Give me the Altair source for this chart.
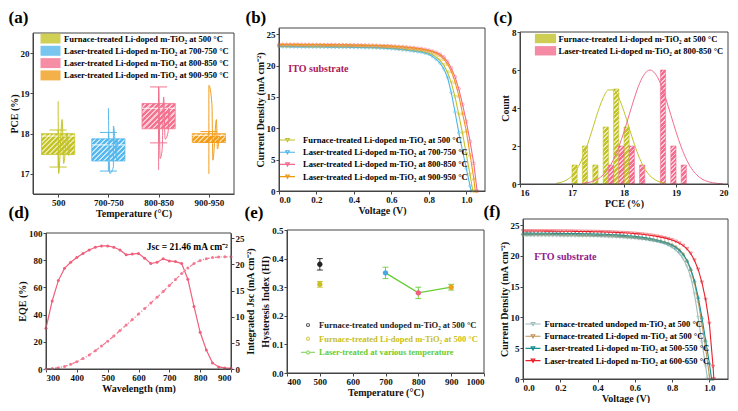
import json
import altair as alt
import pandas as pd

FONT = "Liberation Serif"

# ---------------- (a) PCE box plots ----------------
A_CATS = ["500", "700-750", "800-850", "900-950"]
A_LABELS = [
    "Furnace-treated Li-doped m-TiO₂ at 500 °C",
    "Laser-treated Li-doped m-TiO₂ at 700-750 °C",
    "Laser-treated Li-doped m-TiO₂ at 800-850 °C",
    "Laser-treated Li-doped m-TiO₂ at 900-950 °C",
]
A_COLORS = ["#c4c42a", "#56b8ec", "#f2728f", "#f19e1c"]
A_LIGHT = ["#e9e9a6", "#c4e6f9", "#fbc8d3", "#f9d89a"]
A_Q1 = [17.48, 17.32, 18.12, 17.78]
A_Q3 = [18.00, 17.87, 18.75, 18.00]
A_MED = [17.94, 17.72, 18.63, 17.96]
A_LO = [17.17, 17.07, 17.77, 17.78]
A_HI = [18.09, 18.03, 19.16, 18.05]
A_CURVE_PCE = [
    [17.01, 17.26, 17.46, 17.74, 18.02, 18.35, 18.80],
    [17.01, 17.18, 17.38, 17.62, 17.86, 18.19, 18.63],
    [17.10, 17.38, 17.60, 17.86, 18.05, 18.31, 18.63, 18.91, 19.15],
    [17.00, 17.34, 17.62, 17.94, 18.35, 18.75, 19.20],
]
A_CURVE_OFF = [
    [0.01, 0.11, 0.21, 0.24, 0.18, 0.08, 0.00],
    [0.03, 0.10, 0.165, 0.196, 0.165, 0.10, 0.00],
    [0.00, 0.03, 0.07, 0.13, 0.19, 0.23, 0.20, 0.10, 0.00],
    [0.00, 0.08, 0.17, 0.21, 0.15, 0.06, 0.00],
]

# ---------------- (b) / (f) J-V curves ----------------
V_GRID = [0.00, 0.02, 0.04, 0.06, 0.08, 0.10, 0.12, 0.14, 0.16, 0.18,
          0.20, 0.22, 0.24, 0.26, 0.28, 0.30, 0.32, 0.34, 0.36, 0.38,
          0.40, 0.42, 0.44, 0.46, 0.48, 0.50, 0.52, 0.54, 0.56, 0.58,
          0.60, 0.62, 0.64, 0.66, 0.68, 0.70, 0.72, 0.74, 0.76, 0.78,
          0.80, 0.82, 0.84, 0.86, 0.88, 0.90, 0.92, 0.94, 0.96, 0.98,
          1.00, 1.02, 1.04, 1.06]

B_LABELS = A_LABELS
B_COLORS = ["#c2c22a", "#4db4ec", "#f26a8c", "#f09a14"]
B_SHAPES = ["triangle-down", "diamond", "circle", "triangle-up"]
B_J_500 = [23.05, 23.05, 23.05, 23.04, 23.04, 23.04, 23.03, 23.03, 23.03, 23.02,
           23.02, 23.01, 23.01, 23.00, 23.00, 22.99, 22.98, 22.98, 22.97, 22.96,
           22.95, 22.94, 22.93, 22.92, 22.91, 22.90, 22.88, 22.86, 22.84, 22.81,
           22.77, 22.73, 22.68, 22.62, 22.56, 22.49, 22.42, 22.34, 22.25, 22.13,
           21.98, 21.75, 21.35, 20.85, 20.10, 18.95, 17.30, 15.00, 12.20, 9.20,
           5.90, 2.60]
B_J_700 = [23.00, 23.00, 23.00, 22.99, 22.99, 22.99, 22.98, 22.98, 22.98, 22.97,
           22.97, 22.96, 22.96, 22.95, 22.95, 22.94, 22.93, 22.93, 22.92, 22.91,
           22.90, 22.89, 22.88, 22.87, 22.86, 22.85, 22.83, 22.81, 22.78, 22.74,
           22.70, 22.65, 22.59, 22.52, 22.45, 22.38, 22.30, 22.22, 22.12, 21.98,
           21.80, 21.45, 21.00, 20.40, 19.50, 18.10, 15.70, 12.60, 9.30, 6.40,
           3.60, 0.80]
B_J_800 = [23.35, 23.35, 23.35, 23.34, 23.34, 23.34, 23.33, 23.33, 23.33, 23.32,
           23.32, 23.31, 23.31, 23.30, 23.30, 23.29, 23.28, 23.28, 23.27, 23.26,
           23.25, 23.24, 23.23, 23.22, 23.21, 23.20, 23.18, 23.16, 23.14, 23.12,
           23.09, 23.06, 23.02, 22.98, 22.93, 22.88, 22.82, 22.75, 22.67, 22.57,
           22.45, 22.30, 22.10, 21.80, 21.35, 20.65, 19.60, 18.20, 16.30, 13.80,
           11.10, 7.90, 4.40]
B_J_900 = [23.40, 23.40, 23.40, 23.39, 23.39, 23.39, 23.38, 23.38, 23.38, 23.37,
           23.37, 23.36, 23.36, 23.35, 23.35, 23.34, 23.33, 23.33, 23.32, 23.31,
           23.30, 23.29, 23.28, 23.27, 23.26, 23.25, 23.23, 23.21, 23.19, 23.16,
           23.13, 23.09, 23.05, 23.00, 22.94, 22.88, 22.81, 22.73, 22.64, 22.53,
           22.40, 22.22, 21.98, 21.62, 21.05, 20.25, 19.10, 17.40, 15.20, 12.40,
           9.60, 5.80, 2.00]
B_VOC = [1.035, 1.026, 1.058, 1.048]

F_LABELS = [
    "Furnace-treated undoped m-TiO₂ at 500 °C",
    "Furnace-treated Li-doped m-TiO₂ at 500 °C",
    "Laser-treated Li-doped m-TiO₂ at 500-550 °C",
    "Laser-treated Li-doped m-TiO₂ at 600-650 °C",
]
F_COLORS = ["#9dbdbd", "#c49358", "#178f8f", "#e8202a"]
F_SHAPES = ["triangle-down", "diamond", "triangle-up", "triangle-down"]
F_J_UNDOPED = [23.30, 23.30, 23.30, 23.29, 23.29, 23.29, 23.28, 23.28, 23.27, 23.27,
               23.26, 23.25, 23.25, 23.24, 23.23, 23.22, 23.21, 23.20, 23.19, 23.17,
               23.16, 23.14, 23.12, 23.10, 23.07, 23.04, 23.01, 22.97, 22.93, 22.88,
               22.83, 22.77, 22.70, 22.62, 22.53, 22.43, 22.31, 22.17, 22.00, 21.75,
               21.40, 20.95, 20.35, 19.50, 18.30, 16.60, 13.80, 10.00, 6.00, 2.10]
F_J_LIDOPED = [23.50, 23.50, 23.50, 23.49, 23.49, 23.49, 23.48, 23.48, 23.47, 23.47,
               23.46, 23.45, 23.45, 23.44, 23.43, 23.42, 23.41, 23.40, 23.39, 23.37,
               23.36, 23.34, 23.32, 23.30, 23.27, 23.24, 23.21, 23.17, 23.13, 23.08,
               23.03, 22.97, 22.90, 22.82, 22.73, 22.63, 22.52, 22.39, 22.24, 22.06,
               21.82, 21.50, 21.02, 20.30, 19.20, 17.70, 15.60, 12.60, 9.00, 5.00,
               0.60]
F_J_500 = [23.70, 23.70, 23.70, 23.69, 23.69, 23.69, 23.68, 23.68, 23.67, 23.67,
           23.66, 23.65, 23.65, 23.64, 23.63, 23.62, 23.61, 23.60, 23.58, 23.57,
           23.55, 23.53, 23.51, 23.48, 23.45, 23.42, 23.38, 23.34, 23.29, 23.23,
           23.17, 23.10, 23.02, 22.93, 22.82, 22.70, 22.56, 22.40, 22.22, 22.00,
           21.72, 21.36, 20.88, 20.22, 19.25, 17.90, 16.00, 13.30, 10.00, 6.30,
           2.60]
F_J_600 = [24.05, 24.05, 24.05, 24.04, 24.04, 24.04, 24.03, 24.03, 24.03, 24.02,
           24.02, 24.01, 24.01, 24.00, 23.99, 23.98, 23.97, 23.96, 23.95, 23.94,
           23.93, 23.91, 23.89, 23.87, 23.85, 23.82, 23.79, 23.76, 23.72, 23.68,
           23.63, 23.58, 23.52, 23.45, 23.37, 23.28, 23.18, 23.06, 22.93, 22.77,
           22.58, 22.35, 22.06, 21.68, 21.15, 20.40, 19.30, 17.80, 15.70, 12.90,
           9.00, 2.00]
F_VOC = [0.990, 1.003, 1.012, 1.024]

# ---------------- (c) histogram ----------------
C_LABELS = ["Furnace-treated Li-doped m-TiO₂ at 500 °C",
            "Laser-treated  Li-doped m-TiO₂ at 800-850 °C"]
C_COLORS = ["#c2c22a", "#f26d8e"]
C_LIGHT = ["#ececb0", "#fcccd8"]
C_F_PCE = [17.05, 17.25, 17.45, 17.65, 17.85, 18.05]
C_F_COUNT = [1, 2, 1, 3, 5, 3]
C_L_PCE = [17.75, 17.95, 18.15, 18.35, 18.75, 18.95, 19.15]
C_L_COUNT = [1, 2, 2, 1, 6, 2, 1]
C_FIT_F_X = [16.7, 16.8, 16.9, 17.0, 17.1, 17.2, 17.3, 17.4, 17.5, 17.6, 17.7,
             17.8, 17.9, 18.0, 18.1, 18.2, 18.3, 18.4, 18.5, 18.6, 18.7, 18.8]
C_FIT_F_Y = [0.04, 0.10, 0.22, 0.43, 0.80, 1.35, 2.09, 2.94, 3.82, 4.53, 4.95,
             4.95, 4.53, 3.82, 2.94, 2.09, 1.35, 0.80, 0.43, 0.22, 0.10, 0.04]
C_FIT_L_X = [17.2, 17.3, 17.4, 17.5, 17.6, 17.7, 17.8, 17.9, 18.0, 18.1,
             18.2, 18.3, 18.4, 18.5, 18.6, 18.7, 18.8, 18.9, 19.0, 19.1,
             19.2, 19.3, 19.4, 19.5, 19.6, 19.7, 19.8, 19.9]
C_FIT_L_Y = [0.03, 0.07, 0.14, 0.26, 0.48, 0.81, 1.30, 1.95, 2.75, 3.64,
             4.53, 5.30, 5.81, 6.00, 5.81, 5.30, 4.53, 3.64, 2.75, 1.95,
             1.30, 0.81, 0.48, 0.26, 0.14, 0.07, 0.03, 0.01]
C_BAR_W = 0.1

# ---------------- (d) EQE ----------------
D_WL = [300, 320, 340, 360, 380, 400, 420, 440, 460, 480, 500, 520, 540, 560, 580, 600,
        620, 640, 660, 680, 700, 720, 740, 760, 780, 800, 820, 840, 860, 880, 900]
D_EQE = [30, 50, 65, 74, 78.5, 82, 85, 87.5, 89.5, 90.5, 90.5, 89.5, 87.5, 84, 84.5, 85,
         81.5, 77.5, 78.5, 81, 79.5, 79, 77.5, 66, 46, 27, 14, 4.5, 1.5, 0.8, 0.5]
D_JSC = [0.0, 0.1, 0.25, 0.5, 0.9, 1.4, 2.0, 2.7, 3.5, 4.4, 5.3, 6.3, 7.35, 8.4, 9.45, 10.5,
         11.55, 12.6, 13.7, 14.8, 15.95, 17.1, 18.25, 19.3, 20.15, 20.75, 21.1, 21.3, 21.4,
         21.44, 21.46]
D_NOTE = "Jsc = 21.46 mA cm⁻²"

# ---------------- (e) hysteresis index ----------------
E_LABELS = ["Furnace-treated undoped m-TiO₂ at 500 °C",
            "Furnace-treated Li-doped m-TiO₂ at 500 °C",
            "Laser-treated at various temperature"]
E_LEG_COLORS = ["#222222", "#c8c020", "#66cc33"]
E_UNDOPED = [500, 0.38, 0.02]
E_LIDOPED = [500, 0.31, 0.01]
E_LASER_T = [700, 800, 900]
E_LASER_HI = [0.35, 0.28, 0.30]
E_LASER_ERR = [0.02, 0.02, 0.01]
E_LASER_PT = ["#4aa8e0", "#f06080", "#f0a020"]

# ---------------- layout: grid cells and frame insets (left, right, top, bottom) ----------------
COL_W = [211, 206, 208]
ROW_H = [166, 160]
SPACE_COL, SPACE_ROW = 35, 25
INSET = {
    "a": (0, 10, 5, 0),
    "b": (0, 0, 0, 3),
    "c": (0, 0, 4, 10),
    "d": (13, 13, 14, 10),
    "e": (8, 1, 11, 6),
    "f": (3, 0, 0, 0),
}
FRAME = "#444444"


class Box:
    def __init__(self, key, col, row):
        self.W, self.H = COL_W[col], ROW_H[row]
        self.gl, self.gr, self.gt, self.gb = INSET[key]
        self.fw = self.W - self.gl - self.gr
        self.fh = self.H - self.gt - self.gb

    def xr(self):
        return [self.gl, self.W - self.gr]

    def yr(self):
        return [self.H - self.gb, self.gt]

    def frame(self):
        return alt.Chart(pd.DataFrame({"f": [0]})).mark_rect(
            fillOpacity=0, stroke=FRAME, strokeWidth=1
        ).encode(x=alt.value(self.gl), x2=alt.value(self.W - self.gr),
                 y=alt.value(self.gt), y2=alt.value(self.H - self.gb))


BA, BB, BC = Box("a", 0, 0), Box("b", 1, 0), Box("c", 2, 0)
BD, BE, BF = Box("d", 0, 1), Box("e", 1, 1), Box("f", 2, 1)


def stripes(base, light, w, h, period=3.6, duty=0.6):
    n = max(2, round((w + h) / (1.4142 * period)))
    m = (w * w + h * h) / (w + h)
    stops = []
    for k in range(n):
        a, b, c = k / n, (k + duty) / n, (k + 1) / n
        stops += [{"offset": a, "color": base}, {"offset": b, "color": base},
                  {"offset": b, "color": light}, {"offset": c, "color": light}]
    return {"gradient": "linear", "x1": 0, "y1": 0, "x2": w / m, "y2": h / m, "stops": stops}


def panel_title(tag, offset, dx):
    return alt.TitleParams(text=tag, anchor="start", frame="group", offset=offset, dx=dx,
                           font=FONT, fontSize=17, fontWeight="bold", color="black")


LEG_COMMON = dict(title=None, orient="none", padding=0, labelFont=FONT, labelFontSize=8.5,
                  labelFontWeight="bold", labelLimit=400)
RES = dict(color="independent", shape="independent", fill="independent", stroke="independent")

# ================= panel (a) =================
xa_scale = alt.Scale(domain=[0.5, 4.5], nice=False, zero=False, range=BA.xr())
ya_scale = alt.Scale(domain=[16.5, 20.5], nice=False, zero=False, range=BA.yr())
xa_axis = alt.Axis(values=[1, 2, 3, 4], labelExpr=f"{json.dumps(A_CATS)}[datum.value - 1]",
                   title="Temperature (°C)", offset=-BA.gb)
ya_axis = alt.Axis(values=[17, 18, 19, 20], title="PCE (%)", offset=-BA.gl)


def XA(f):
    return alt.X(f, type="quantitative", scale=xa_scale, axis=xa_axis)


def YA(f):
    return alt.Y(f, type="quantitative", scale=ya_scale, axis=ya_axis)


a_box = pd.DataFrame({"cat": A_CATS, "label": A_LABELS, "pos": [1, 2, 3, 4],
                      "q1": A_Q1, "q3": A_Q3, "med": A_MED, "lo": A_LO, "hi": A_HI})
a_curve = pd.DataFrame([{"pos": i + 1, "pce": y, "off": o}
                        for i in range(4) for y, o in zip(A_CURVE_PCE[i], A_CURVE_OFF[i])])
a_layers = []
for i in range(4):
    col = A_COLORS[i]
    sub = alt.Chart(a_box).transform_filter(alt.datum.pos == i + 1).transform_calculate(
        xl="datum.pos - 0.33", xr="datum.pos + 0.33", cl="datum.pos - 0.17", cr="datum.pos + 0.17")
    a_layers.append(sub.mark_rule(color=col, strokeWidth=1).encode(x=XA("pos"), y=YA("lo"), y2="q1"))
    a_layers.append(sub.mark_rule(color=col, strokeWidth=1).encode(x=XA("pos"), y=YA("q3"), y2="hi"))
    a_layers.append(sub.mark_rule(color=col, strokeWidth=1).encode(x=XA("cl"), x2="cr", y=YA("lo")))
    a_layers.append(sub.mark_rule(color=col, strokeWidth=1).encode(x=XA("cl"), x2="cr", y=YA("hi")))
    bw = 0.66 * BA.fw / 4.0
    bh = (A_Q3[i] - A_Q1[i]) * BA.fh / 4.0
    a_layers.append(sub.mark_rect(fill=stripes(col, A_LIGHT[i], bw, bh), stroke=col, strokeWidth=0.8)
                    .encode(x=XA("xl"), x2="xr", y=YA("q1"), y2="q3"))
    a_layers.append(sub.mark_rule(color="white", strokeWidth=1, opacity=0.9)
                    .encode(x=XA("xl"), x2="xr", y=YA("med")))
    a_layers.append(alt.Chart(a_curve).transform_filter(alt.datum.pos == i + 1)
                    .transform_calculate(cx="datum.pos + datum.off")
                    .mark_line(color=col, strokeWidth=1, interpolate="monotone", orient="vertical")
                    .encode(x=XA("cx"), y=YA("pce")))
a_layers.append(alt.Chart(a_box).mark_point(filled=True, size=0).encode(
    x=XA("pos"), y=YA("q1"),
    color=alt.Color("label:N", scale=alt.Scale(domain=A_LABELS, range=A_COLORS),
                    legend=alt.Legend(legendX=BA.gl + 11, legendY=BA.gt - 1,
                                      symbolType="M-1.6,-0.8H1.6V0.8H-1.6Z",
                                      symbolSize=156, symbolOpacity=0.8, symbolStrokeWidth=0,
                                      labelOffset=7, rowPadding=0.3, **LEG_COMMON))))
a_layers.append(BA.frame())
panel_a = alt.layer(*a_layers).properties(width=BA.W, height=BA.H, title=panel_title("(a)", 1, -24.5))


# ================= panels (b) and (f) =================
def jv_panel(box, labels, colors, shapes, jlists, vocs, note, note_xy, note_color,
             leg_x, leg_y, leg_off, title):
    rows = []
    for k, (lab, js, voc) in enumerate(zip(labels, jlists, vocs)):
        for v, j in zip(V_GRID, js):
            rows.append({"k": k, "label": lab, "V": v, "J": j})
        rows.append({"k": k, "label": lab, "V": voc, "J": 0.0})
    df = pd.DataFrame(rows)
    xs = alt.Scale(domain=[0, 1.1], nice=False, range=box.xr())
    ys = alt.Scale(domain=[0, 26], nice=False, range=box.yr())
    xax = alt.Axis(values=[0, 0.2, 0.4, 0.6, 0.8, 1.0], format=".1f", title="Voltage (V)", offset=-box.gb)
    yax = alt.Axis(values=[0, 5, 10, 15, 20, 25], title="Current Density (mA cm⁻²)", offset=-box.gl)
    layers = [alt.Chart(df).mark_line(strokeWidth=1.1).encode(
        x=alt.X("V:Q", scale=xs, axis=xax),
        y=alt.Y("J:Q", scale=ys, axis=yax),
        color=alt.Color("label:N", scale=alt.Scale(domain=labels, range=colors),
                        legend=alt.Legend(legendX=leg_x, legendY=leg_y,
                                          symbolType="M-1.25,0H1.25M-0.3,-0.25H0.3L0,0.28Z",
                                          symbolSize=144, symbolStrokeWidth=1.1,
                                          labelOffset=leg_off, rowPadding=0.2, **LEG_COMMON)))]
    for k, (col, shp) in enumerate(zip(colors, shapes)):
        layers.append(alt.Chart(df).transform_filter(alt.datum.k == k).mark_point(
            shape=shp, color=col, filled=False, size=11, strokeWidth=0.7
        ).encode(x=alt.X("V:Q", scale=xs, axis=xax), y=alt.Y("J:Q", scale=ys, axis=yax)))
    layers.append(alt.Chart(pd.DataFrame({"t": [note]})).mark_text(
        align="left", baseline="middle", font=FONT, fontSize=10, fontWeight="bold", color=note_color
    ).encode(x=alt.XDatum(note_xy[0], scale=xs, axis=xax),
             y=alt.YDatum(note_xy[1], scale=ys, axis=yax), text="t:N"))
    layers.append(box.frame())
    return alt.layer(*layers).properties(width=box.W, height=box.H, title=title)


panel_b = jv_panel(BB, B_LABELS, B_COLORS, B_SHAPES, [B_J_500, B_J_700, B_J_800, B_J_900], B_VOC,
                   "ITO substrate", [0.05, 19.5], "#a8185c",
                   BB.gl + 1.5, BB.H - BB.gb - 58, 8.5, panel_title("(b)", 1, -33.5))
panel_f = jv_panel(BF, F_LABELS, F_COLORS, F_SHAPES, [F_J_UNDOPED, F_J_LIDOPED, F_J_500, F_J_600],
                   F_VOC, "FTO substrate", [0.06, 19.8], "#8c1a8c",
                   BF.gl + 3, BF.H - BF.gb - 62, 4.5, panel_title("(f)", -2, -36.5))

# ================= panel (c) =================
xc_scale = alt.Scale(domain=[16, 20], nice=False, zero=False, range=BC.xr())
yc_scale = alt.Scale(domain=[0, 8], nice=False, range=BC.yr())
xc_axis = alt.Axis(values=[16, 17, 18, 19, 20], title="PCE (%)", offset=-BC.gb)
yc_axis = alt.Axis(values=[0, 2, 4, 6, 8], title="Count", offset=-BC.gl)


def XC(f):
    return alt.X(f, type="quantitative", scale=xc_scale, axis=xc_axis)


def YC(f):
    return alt.Y(f, type="quantitative", scale=yc_scale, axis=yc_axis)


c_layers = []
for si, (pces, counts) in enumerate([(C_F_PCE, C_F_COUNT), (C_L_PCE, C_L_COUNT)]):
    cdf = pd.DataFrame({"pce": pces, "n": counts})
    for cnt in sorted(set(counts)):
        bw = C_BAR_W * BC.fw / 4.0
        bh = cnt * BC.fh / 8.0
        c_layers.append(
            alt.Chart(cdf).transform_filter(alt.datum.n == cnt)
            .transform_calculate(x1=f"datum.pce - {C_BAR_W / 2}", x2=f"datum.pce + {C_BAR_W / 2}", z="0")
            .mark_rect(fill=stripes(C_COLORS[si], C_LIGHT[si], bw, bh, period=3.2), stroke=C_COLORS[si],
                       strokeWidth=0.6)
            .encode(x=XC("x1"), x2="x2", y=YC("n"), y2="z"))
for fx, fy, col in [(C_FIT_F_X, C_FIT_F_Y, C_COLORS[0]), (C_FIT_L_X, C_FIT_L_Y, C_COLORS[1])]:
    c_layers.append(alt.Chart(pd.DataFrame({"pce": fx, "fit": fy}))
                    .mark_line(color=col, strokeWidth=1, interpolate="monotone")
                    .encode(x=XC("pce"), y=YC("fit")))
c_layers.append(alt.Chart(pd.DataFrame({"label": C_LABELS, "pce": [17.0, 18.0], "n": [0, 0]}))
                .mark_point(filled=True, size=0).encode(
    x=XC("pce"), y=YC("n"),
    color=alt.Color("label:N", scale=alt.Scale(domain=C_LABELS, range=C_COLORS),
                    legend=alt.Legend(legendX=BC.gl + 19, legendY=BC.gt,
                                      symbolType="M-1.7,-0.75H1.7V0.75H-1.7Z",
                                      symbolSize=156, symbolOpacity=0.8, symbolStrokeWidth=0,
                                      labelOffset=6.5, rowPadding=0.3, **LEG_COMMON))))
c_layers.append(BC.frame())
panel_c = alt.layer(*c_layers).properties(width=BC.W, height=BC.H, title=panel_title("(c)", 1, -26.5))

# ================= panel (d) =================
d_df = pd.DataFrame({"wl": D_WL, "eqe": D_EQE, "jsc": D_JSC})
xd_scale = alt.Scale(domain=[300, 900], nice=False, zero=False, range=BD.xr())
xd_axis = alt.Axis(values=[300, 400, 500, 600, 700, 800, 900], title="Wavelength (nm)", offset=-BD.gb)
yd_left = alt.Scale(domain=[0, 100], nice=False, range=BD.yr())
yd_right = alt.Scale(domain=[0, 26], nice=False, range=BD.yr())
D_PINK = "#f0607c"
D_PINK2 = "#f27a92"
d_eqe = alt.Chart(d_df).mark_line(
    color=D_PINK, strokeWidth=1.2, point=alt.OverlayMarkDef(color=D_PINK, filled=True, size=9)
).encode(x=alt.X("wl:Q", scale=xd_scale, axis=xd_axis),
         y=alt.Y("eqe:Q", scale=yd_left,
                 axis=alt.Axis(orient="left", values=[0, 20, 40, 60, 80, 100], title="EQE (%)",
                               offset=-BD.gl)))
d_jsc = alt.Chart(d_df).mark_line(
    color=D_PINK2, strokeWidth=1.2, strokeDash=[4, 2, 1, 2],
    point=alt.OverlayMarkDef(color=D_PINK2, filled=True, size=9)
).encode(x=alt.X("wl:Q", scale=xd_scale, axis=xd_axis),
         y=alt.Y("jsc:Q", scale=yd_right,
                 axis=alt.Axis(orient="right", values=[0, 5, 10, 15, 20, 25], offset=-BD.gr,
                               title="Integrated Jsc (mA cm⁻²)", titleAngle=270, titleBaseline="top")))
d_note = alt.Chart(pd.DataFrame({"t": [D_NOTE]})).mark_text(
    align="right", baseline="middle", font=FONT, fontSize=9.5, fontWeight="bold", color="black"
).encode(x=alt.XDatum(890, scale=xd_scale, axis=xd_axis),
         y=alt.YDatum(90, scale=alt.Scale(domain=[0, 100], nice=False, range=BD.yr()), axis=None),
         text="t:N")
panel_d = alt.layer(d_eqe, d_jsc, d_note, BD.frame()).resolve_scale(y="independent").properties(
    width=BD.W, height=BD.H, title=panel_title("(d)", -3, -24.5))

# ================= panel (e) =================
xe_scale = alt.Scale(domain=[400, 1000], nice=False, zero=False, range=BE.xr())
ye_scale = alt.Scale(domain=[0, 0.5], nice=False, range=BE.yr())
xe_axis = alt.Axis(values=[400, 500, 600, 700, 800, 900, 1000], format="d", title="Temperature (°C)",
                   offset=-BE.gb)
ye_axis = alt.Axis(values=[0, 0.1, 0.2, 0.3, 0.4, 0.5], format=".1f", title="Hysteresis Index (HI)",
                   offset=-BE.gl)


def XE(f):
    return alt.X(f, type="quantitative", scale=xe_scale, axis=xe_axis)


def YE(f):
    return alt.Y(f, type="quantitative", scale=ye_scale, axis=ye_axis)


e_rows = [
    {"series": E_LABELS[0], "T": E_UNDOPED[0], "hi": E_UNDOPED[1], "err": E_UNDOPED[2],
     "pc": E_LEG_COLORS[0], "ec": E_LEG_COLORS[0]},
    {"series": E_LABELS[1], "T": E_LIDOPED[0], "hi": E_LIDOPED[1], "err": E_LIDOPED[2],
     "pc": E_LEG_COLORS[1], "ec": E_LEG_COLORS[1]},
] + [{"series": E_LABELS[2], "T": t, "hi": h, "err": e, "pc": pc, "ec": E_LEG_COLORS[2]}
     for t, h, e, pc in zip(E_LASER_T, E_LASER_HI, E_LASER_ERR, E_LASER_PT)]
e_df = pd.DataFrame(e_rows)
e_base = alt.Chart(e_df).transform_calculate(
    lo="datum.hi - datum.err", up="datum.hi + datum.err", cl="datum.T - 9", cr="datum.T + 9")
e_line = alt.Chart(e_df).transform_filter(alt.datum.series == E_LABELS[2]).mark_line(
    color=E_LEG_COLORS[2], strokeWidth=1.3).encode(x=XE("T"), y=YE("hi"))
e_err = e_base.mark_rule(strokeWidth=0.9).encode(
    x=XE("T"), y=YE("lo"), y2="up", stroke=alt.Stroke("ec:N", scale=None))
e_cap1 = e_base.mark_rule(strokeWidth=0.9).encode(
    x=XE("cl"), x2="cr", y=YE("lo"), stroke=alt.Stroke("ec:N", scale=None))
e_cap2 = e_base.mark_rule(strokeWidth=0.9).encode(
    x=XE("cl"), x2="cr", y=YE("up"), stroke=alt.Stroke("ec:N", scale=None))
e_pts = alt.Chart(e_df).mark_point(filled=True, size=12, opacity=1).encode(
    x=XE("T"), y=YE("hi"), fill=alt.Fill("pc:N", scale=None), stroke=alt.Stroke("pc:N", scale=None))
label_color_expr = (f"{json.dumps(E_LEG_COLORS)}"
                    f"[indexof({json.dumps(E_LABELS, ensure_ascii=False)}, datum.value)]")
small_ring = "M-0.3,0A0.3,0.3,0,1,1,0.3,0A0.3,0.3,0,1,1,-0.3,0Z"
line_ring = "M-1.4,0H-0.3M0.3,0H1.4M-0.3,0A0.3,0.3,0,1,1,0.3,0A0.3,0.3,0,1,1,-0.3,0Z"
e_leg_args = dict(legendX=BE.gl + 15, legendY=BE.gt + 89, symbolSize=100, symbolStrokeWidth=1.2,
                  labelOffset=5, rowPadding=2.7, labelColor={"expr": label_color_expr}, **LEG_COMMON)
e_leg = alt.Chart(e_df).mark_point(filled=False, size=0).encode(
    x=XE("T"), y=YE("hi"),
    color=alt.Color("series:N", scale=alt.Scale(domain=E_LABELS, range=E_LEG_COLORS),
                    legend=alt.Legend(**e_leg_args)),
    shape=alt.Shape("series:N", scale=alt.Scale(domain=E_LABELS, range=[small_ring, small_ring, line_ring]),
                    legend=alt.Legend(**e_leg_args)))
panel_e = alt.layer(e_line, e_err, e_cap1, e_cap2, e_pts, e_leg, BE.frame()).properties(
    width=BE.W, height=BE.H, title=panel_title("(e)", -3, -34.5))

# ================= assemble =================
chart = alt.concat(
    panel_a, panel_b, panel_c, panel_d, panel_e, panel_f,
    columns=3, spacing={"row": SPACE_ROW, "column": SPACE_COL}, bounds="flush", align="each"
).resolve_scale(**RES).resolve_legend(color="independent", shape="independent").properties(
    padding={"left": 0, "top": 0, "right": 0, "bottom": 0}
).configure(font=FONT).configure_view(strokeWidth=0).configure_axis(
    labelFont=FONT, labelFontSize=9, labelFontWeight="bold", labelColor="#111",
    titleFont=FONT, titleFontSize=10, titleFontWeight="bold", titleColor="#111",
    domainColor=FRAME, tickColor=FRAME, tickSize=3, labelPadding=1, titlePadding=1, grid=False
)

chart.save("out.html", embed_options={"renderer": "svg", "actions": False})
